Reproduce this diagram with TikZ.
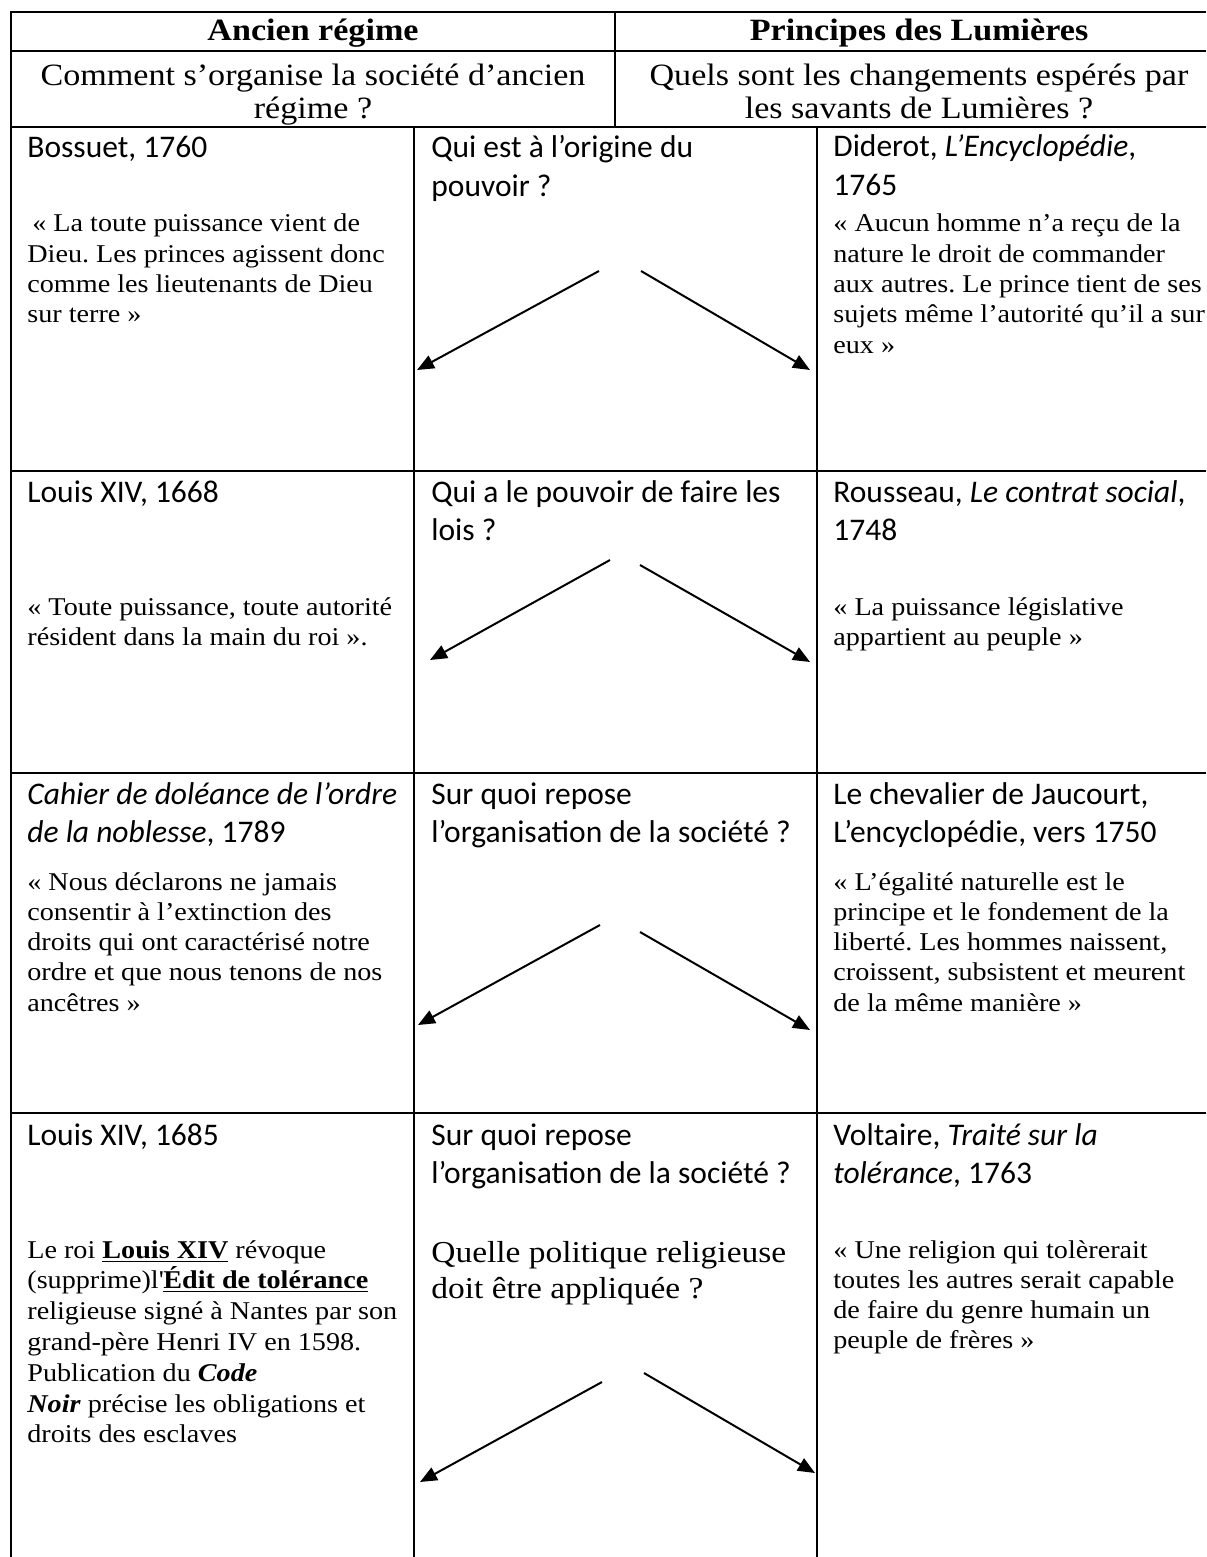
\documentclass[tikz,border=0pt]{standalone}
\usepackage{fontspec}
\setmainfont{Liberation Serif}[FakeStretch=1.1]
\newfontfamily\titlefont{Carlito}
\usetikzlibrary{arrows.meta}
\frenchspacing
\tikzset{
  grid/.style={line width=1pt},
  arr/.style={line width=1pt, -{Triangle[length=8.5pt,width=7pt]}},
  ttl/.style={font=\titlefont\fontsize{15.75}{19}\selectfont, inner sep=0pt, anchor=base west},
  qt/.style={font=\fontsize{12.8}{15}\selectfont, inner sep=0pt, anchor=base west},
  hd/.style={font=\bfseries\fontsize{15.5}{18}\selectfont, inner sep=0pt, anchor=base},
  subh/.style={font=\fontsize{15.5}{18}\selectfont, inner sep=0pt, anchor=base},
  bigq/.style={font=\fontsize{15.2}{18}\selectfont, inner sep=0pt, anchor=base west},
}
\newcommand\txtlines[6]{%
  \foreach \lineT [count=\k] in {#6}{%
    \node[#2] (#1-\k) at (#3,{#4+(\k-1)*#5}) {\frenchspacing\lineT};}}
\begin{document}
\begin{tikzpicture}[x=0.5pt,y=-0.5pt]
\path[use as bounding box] (0,0) rectangle (1206,1557);
% table grid
\draw[grid] (11,12) -- (1206,12);
\draw[grid] (11,51) -- (1206,51);
\draw[grid] (11,127) -- (1206,127);
\draw[grid] (11,471) -- (1206,471);
\draw[grid] (11,773) -- (1206,773);
\draw[grid] (11,1113) -- (1206,1113);
\draw[grid] (11,11.5) -- (11,1557);
\draw[grid] (615,12) -- (615,127);
\draw[grid] (414,127) -- (414,1557);
\draw[grid] (817,127) -- (817,1557);
% header
\node[hd] (hA) at (313,41) {Ancien régime};
\node[hd] (hP) at (919,41) {Principes des Lumières};
\node[subh] (sA1) at (313,86) {Comment s’organise la société d’ancien};
\node[subh] (sA2) at (313,119) {régime ?};
\node[subh] (sP1) at (919,86) {Quels sont les changements espérés par};
\node[subh] (sP2) at (919,119) {les savants de Lumières ?};
% row 1
\node[ttl] (r1a) at (27,158) {Bossuet, 1760};
\txtlines{r1q}{qt}{27}{232}{30.3}{{\hspace*{2.5pt}« La toute puissance vient de},{Dieu. Les princes agissent donc},{comme les lieutenants de Dieu},{sur terre »}}
\txtlines{r1m}{ttl}{431}{158}{38.5}{{Qui est à l’origine du},{pouvoir ?}}
\txtlines{r1r}{ttl}{833}{157}{38.5}{{Diderot, \textit{L’Encyclopédie},},{1765}}
\txtlines{r1s}{qt}{833}{232}{30.3}{{« Aucun homme n’a reçu de la},{nature le droit de commander},{aux autres. Le prince tient de ses},{sujets même l’autorité qu’il a sur},{eux »}}
\coordinate (a1o) at (599,271); \coordinate (a1l) at (417,370);
\coordinate (a1p) at (641,271); \coordinate (a1r) at (810,370);
\draw[arr] (a1o) -- (a1l);
\draw[arr] (a1p) -- (a1r);
% row 2
\node[ttl] (r2a) at (27,502) {Louis XIV, 1668};
\txtlines{r2q}{qt}{27}{615}{30.3}{{« Toute puissance, toute autorité},{résident dans la main du roi ».}}
\txtlines{r2m}{ttl}{431}{502}{38.5}{{Qui a le pouvoir de faire les},{lois ?}}
\txtlines{r2r}{ttl}{833}{502}{38.5}{{Rousseau, \textit{Le contrat social},},{1748}}
\txtlines{r2s}{qt}{833}{615}{30.3}{{« La puissance législative},{appartient au peuple »}}
\coordinate (a2o) at (610,560); \coordinate (a2l) at (430,660);
\coordinate (a2p) at (640,565); \coordinate (a2r) at (810,662);
\draw[arr] (a2o) -- (a2l);
\draw[arr] (a2p) -- (a2r);
% row 3
\txtlines{r3a}{ttl}{27}{804}{38.5}{{\textit{Cahier de doléance de l’ordre}},{\textit{de la noblesse}, 1789}}
\txtlines{r3q}{qt}{27}{890}{30.3}{{« Nous déclarons ne jamais},{consentir à l’extinction des},{droits qui ont caractérisé notre},{ordre et que nous tenons de nos},{ancêtres »}}
\txtlines{r3m}{ttl}{431}{804}{38.5}{{Sur quoi repose},{l’organisation de la société ?}}
\txtlines{r3r}{ttl}{833}{804}{38.5}{{Le chevalier de Jaucourt,},{L’encyclopédie, vers 1750}}
\txtlines{r3s}{qt}{833}{890}{30.3}{{« L’égalité naturelle est le},{principe et le fondement de la},{liberté. Les hommes naissent,},{croissent, subsistent et meurent},{de la même manière »}}
\coordinate (a3o) at (600,925); \coordinate (a3l) at (418,1025);
\coordinate (a3p) at (640,932); \coordinate (a3r) at (810,1030);
\draw[arr] (a3o) -- (a3l);
\draw[arr] (a3p) -- (a3r);
% row 4
\node[ttl] (r4a) at (27,1145) {Louis XIV, 1685};
\txtlines{r4q}{qt}{27}{1258}{30.8}{{Le roi \underline{\textbf{Louis XIV}} révoque},{(supprime)l\textquotesingle\underline{\textbf{Édit de tolérance}}},{religieuse signé à Nantes par son},{grand-père Henri IV en 1598.},{Publication du \textbf{\textit{Code}}},{\textbf{\textit{Noir}} précise les obligations et},{droits des esclaves}}
\txtlines{r4m}{ttl}{431}{1145}{38.5}{{Sur quoi repose},{l’organisation de la société ?}}
\txtlines{r4b}{bigq}{431}{1262}{36}{{Quelle politique religieuse},{doit être appliquée ?}}
\txtlines{r4r}{ttl}{833}{1145}{38.5}{{Voltaire, \textit{Traité sur la}},{\textit{tolérance}, 1763}}
\txtlines{r4s}{qt}{833}{1258}{30.3}{{« Une religion qui tolèrerait},{toutes les autres serait capable},{de faire du genre humain un},{peuple de frères »}}
\coordinate (a4o) at (602,1382); \coordinate (a4l) at (420,1482);
\coordinate (a4p) at (644,1373); \coordinate (a4r) at (815,1473);
\draw[arr] (a4o) -- (a4l);
\draw[arr] (a4p) -- (a4r);
\end{tikzpicture}
\end{document}
